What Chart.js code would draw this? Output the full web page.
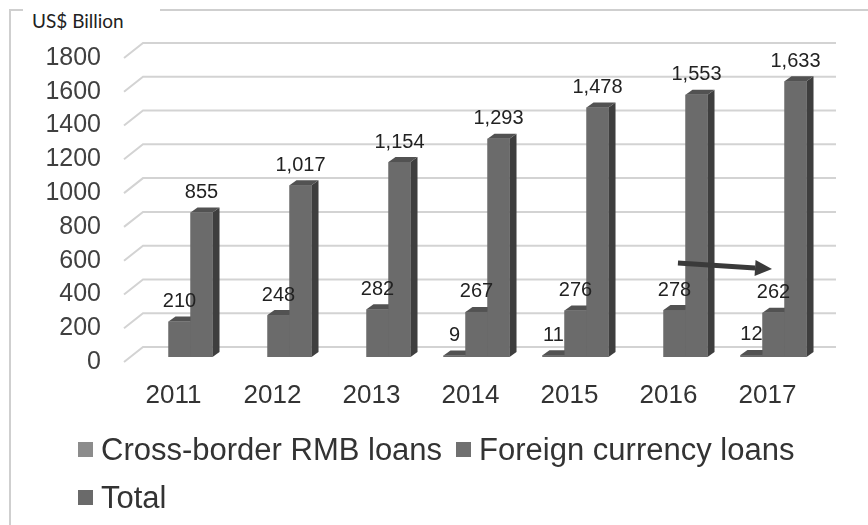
<!DOCTYPE html>
<html>
<head>
<meta charset="utf-8">
<script src="https://cdn.jsdelivr.net/npm/chart.js@4"></script>
<style>
  html, body { margin: 0; padding: 0; background: #fff; }
  #wrap { position: relative; width: 868px; height: 525px; overflow: hidden; }
  #frame { position: absolute; left: 9px; top: 9px; width: 900px; height: 600px;
           border-left: 2px solid #cfcfcf; border-top: 2px solid #cfcfcf; }
  #title { position: absolute; left: 23px; top: 8px; width: 128px; padding-left: 9px;
           background: #fff; font: 19px Lato, 'Noto Sans', sans-serif; color: #222; line-height: 26px; }
  #chart { position: absolute; left: 0; top: 0; }
  #legend { position: absolute; left: 78px; top: 426px; width: 740px;
            font: 31px 'Liberation Sans', Arial, sans-serif; color: #333; line-height: 48px; }
  #legend .item { display: inline-block; margin-right: 14px; white-space: nowrap; }
  #legend .box { display: inline-block; width: 15px; height: 15px; margin-right: 8px; vertical-align: middle; position: relative; top: -2px; }
</style>
</head>
<body>
<div id="wrap">
  <div id="frame"></div>
  <div id="title">US$ Billion</div>
  <canvas id="chart" width="868" height="525"></canvas>
  <div id="legend"></div>
</div>
<script>
// data
const years = ['2011', '2012', '2013', '2014', '2015', '2016', '2017'];
const rmbLoans = [null, null, null, 9, 11, null, 12];
const foreignLoans = [210, 248, 282, 267, 276, 278, 262];
const totalLoans = [855, 1017, 1154, 1293, 1478, 1553, 1633];
const seriesNames = ['Cross-border RMB loans', 'Foreign currency loans', 'Total'];
const legendColors = ['#8c8c8c', '#707070', '#6a6a6a'];
const yMax = 1800;
const yStep = 200;
// arrow annotation: [category index, value]
const arrowFrom = [5.035, 556];
const arrowTo = [5.985, 521];

// look of the fake 3d
const FRONT = '#6b6b6b', SIDE = '#3e3e3e', TOP = '#525252';
const BAR_DX = 7, BAR_DY = -5;      // bar depth
const WALL_DX = 13, WALL_DY = -10;  // back wall offset
const FONT = "'Liberation Sans', Arial, sans-serif";

const fmt = v => v.toLocaleString('en-US');

// back wall grid + diagonal floor ticks
function drawWall(chart) {
  const { ctx, chartArea: a, scales: { y } } = chart;
  ctx.save();
  ctx.strokeStyle = '#d3d3d3';
  ctx.lineWidth = 2;
  for (let v = 0; v <= yMax; v += yStep) {
    const py = y.getPixelForValue(v);
    ctx.beginPath();
    ctx.moveTo(a.left - 6, py + 5);
    ctx.lineTo(a.left + WALL_DX, py + WALL_DY);
    ctx.lineTo(a.right + WALL_DX, py + WALL_DY);
    ctx.stroke();
  }
  ctx.restore();
}

function drawBar(ctx, b) {
  const l = b.x - b.width / 2, r = b.x + b.width / 2, t = b.y, bs = b.base;
  // side
  ctx.fillStyle = SIDE;
  ctx.beginPath();
  ctx.moveTo(r, t); ctx.lineTo(r + BAR_DX, t + BAR_DY);
  ctx.lineTo(r + BAR_DX, bs + BAR_DY); ctx.lineTo(r, bs);
  ctx.closePath(); ctx.fill();
  // top
  ctx.fillStyle = TOP;
  ctx.beginPath();
  ctx.moveTo(l, t); ctx.lineTo(l + BAR_DX, t + BAR_DY);
  ctx.lineTo(r + BAR_DX, t + BAR_DY); ctx.lineTo(r, t);
  ctx.closePath(); ctx.fill();
  // front
  ctx.fillStyle = FRONT;
  ctx.fillRect(l, t, r - l, bs - t);
}

const bars3d = {
  id: 'bars3d',
  beforeDatasetsDraw(chart) { drawWall(chart); },
  afterDatasetsDraw(chart) {
    const ctx = chart.ctx;
    ctx.save();
    chart.data.datasets.forEach((ds, i) => {
      chart.getDatasetMeta(i).data.forEach((bar, j) => {
        if (ds.data[j] == null || isNaN(bar.y)) return;
        drawBar(ctx, bar);
      });
    });
    // value labels
    ctx.fillStyle = '#222';
    ctx.font = '20px ' + FONT;
    ctx.textAlign = 'center';
    ctx.textBaseline = 'middle';
    chart.data.datasets.forEach((ds, i) => {
      chart.getDatasetMeta(i).data.forEach((bar, j) => {
        if (ds.data[j] == null) return;
        ctx.fillText(fmt(ds.data[j]), bar.x, bar.y - 20);
      });
    });
    // arrow
    const x = chart.scales.x, y = chart.scales.y;
    const xAt = f => {
      const i = Math.floor(f);
      const p0 = x.getPixelForValue(i), p1 = x.getPixelForValue(i + 1);
      return p0 + (p1 - p0) * (f - i);
    };
    const x0 = xAt(arrowFrom[0]), y0 = y.getPixelForValue(arrowFrom[1]);
    const x1 = xAt(arrowTo[0]), y1 = y.getPixelForValue(arrowTo[1]);
    const ang = Math.atan2(y1 - y0, x1 - x0);
    const head = 17, half = 8;
    const bx = x1 - head * Math.cos(ang), by = y1 - head * Math.sin(ang);
    ctx.strokeStyle = '#3a3a3a';
    ctx.fillStyle = '#3a3a3a';
    ctx.lineWidth = 5;
    ctx.beginPath(); ctx.moveTo(x0, y0); ctx.lineTo(bx, by); ctx.stroke();
    ctx.beginPath();
    ctx.moveTo(x1, y1);
    ctx.lineTo(bx + half * Math.sin(ang), by - half * Math.cos(ang));
    ctx.lineTo(bx - half * Math.sin(ang), by + half * Math.cos(ang));
    ctx.closePath(); ctx.fill();
    ctx.restore();
  }
};

const mk = (label, data) => ({
  label, data, backgroundColor: FRONT, borderWidth: 0,
  categoryPercentage: 0.667, barPercentage: 1.0
});

new Chart(document.getElementById('chart'), {
  type: 'bar',
  data: {
    labels: years,
    datasets: [
      mk(seriesNames[0], rmbLoans),
      mk(seriesNames[1], foreignLoans),
      mk(seriesNames[2], totalLoans)
    ]
  },
  options: {
    responsive: false,
    animation: false,
    layout: { padding: { left: 10, right: 45, top: 53, bottom: 0 } },
    plugins: { legend: { display: false }, tooltip: { enabled: false } },
    scales: {
      x: {
        grid: { display: false, drawTicks: false },
        border: { display: false },
        ticks: { color: '#333', font: { family: FONT, size: 26 }, padding: 23, labelOffset: -6, maxRotation: 0 },
        afterFit: s => { s.height = 168; }
      },
      y: {
        min: 0, max: yMax,
        grid: { display: false, drawTicks: false },
        border: { display: false },
        ticks: { stepSize: yStep, color: '#404040', font: { family: FONT, size: 25 }, padding: 29, labelOffset: 5,
                 callback: v => String(v) },
        afterFit: s => { s.width = 120; }
      }
    }
  },
  plugins: [bars3d]
});

// legend
document.getElementById('legend').innerHTML = seriesNames.map((n, i) =>
  `<span class="item"><span class="box" style="background:${legendColors[i]}"></span>${n}</span>`
).join('');
</script>
</body>
</html>
